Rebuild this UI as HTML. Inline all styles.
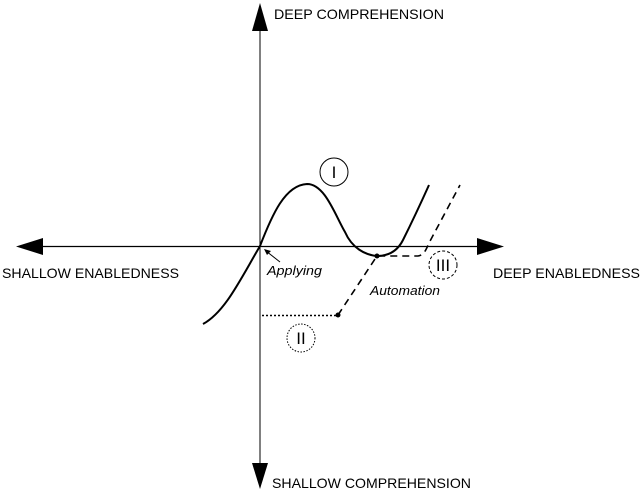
<!DOCTYPE html>
<html><head><style>
html,body{margin:0;padding:0;background:#fff;}
svg{display:block;}
text{font-family:"Liberation Sans",sans-serif;fill:#000;}
</style></head><body>
<svg width="640" height="490" viewBox="0 0 640 490" xmlns="http://www.w3.org/2000/svg">
<line x1="260" y1="25" x2="260" y2="468" stroke="#000" stroke-width="1"/>
<line x1="40" y1="246.5" x2="480" y2="246.5" stroke="#000" stroke-width="1.3"/>
<polygon points="260,3 252,31 268,31" fill="#000"/>
<polygon points="260,489 252,463 268,463" fill="#000"/>
<polygon points="16,246.5 43,238 43,255" fill="#000"/>
<polygon points="504,246.5 477,238 477,255" fill="#000"/>
<text x="274" y="19" style="font-size:14px" textLength="170" lengthAdjust="spacingAndGlyphs">DEEP COMPREHENSION</text>
<text x="272" y="488" style="font-size:14px" textLength="199" lengthAdjust="spacingAndGlyphs">SHALLOW COMPREHENSION</text>
<text x="2" y="278" style="font-size:14px" textLength="177" lengthAdjust="spacingAndGlyphs">SHALLOW ENABLEDNESS</text>
<text x="493" y="278" style="font-size:14px" textLength="147" lengthAdjust="spacingAndGlyphs">DEEP ENABLEDNESS</text>
<path d="M203,324 C225,312 240,280 260,246 C272,215 285,185 307,184 C325,184 335,215 345,232 C352,248 365,255 377,256 C390,256 398,250 403,240 C412,222 420,205 429,185" fill="none" stroke="#000" stroke-width="2"/>
<path d="M338,315 L377,256 L418,256 C424,255 426,250 429,243 L460,185" fill="none" stroke="#000" stroke-width="1.6" stroke-dasharray="7,5"/>
<line x1="262" y1="315.5" x2="338" y2="315.5" stroke="#000" stroke-width="1.6" stroke-dasharray="2,2"/>
<circle cx="338" cy="315" r="2.5" fill="#000"/>
<circle cx="377" cy="256" r="2.5" fill="#000"/>
<circle cx="334" cy="172" r="14" fill="none" stroke="#000" stroke-width="1"/>
<text x="334" y="178" text-anchor="middle" style="font-size:17px">I</text>
<circle cx="301" cy="338" r="14" fill="none" stroke="#000" stroke-width="1" stroke-dasharray="1.5,1.5"/>
<text x="301" y="344" text-anchor="middle" style="font-size:17px">II</text>
<circle cx="443" cy="265" r="14" fill="none" stroke="#000" stroke-width="1" stroke-dasharray="3,2"/>
<text x="443" y="271" text-anchor="middle" style="font-size:17px">III</text>
<line x1="280" y1="262" x2="266" y2="251" stroke="#000" stroke-width="1"/>
<polygon points="264,249 271,251 267,255" fill="#000"/>
<text x="267" y="275" style="font-size:13px;font-style:italic" textLength="55" lengthAdjust="spacingAndGlyphs">Applying</text>
<text x="370" y="295" style="font-size:13px;font-style:italic" textLength="70" lengthAdjust="spacingAndGlyphs">Automation</text>
</svg>
</body></html>
